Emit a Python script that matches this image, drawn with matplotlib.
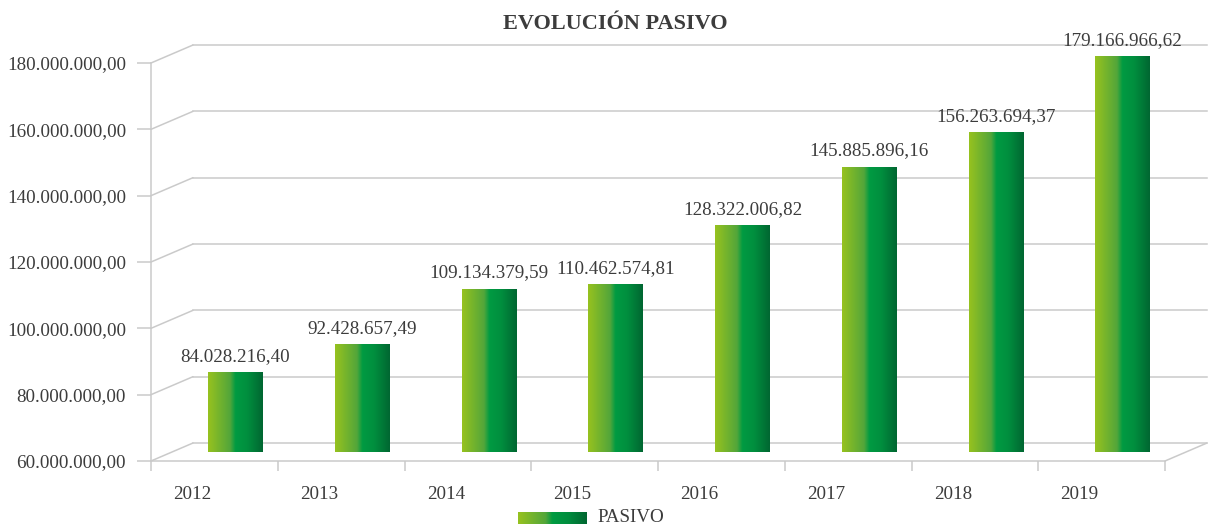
import matplotlib
matplotlib.use('Agg')
import matplotlib.pyplot as plt
import numpy as np
from matplotlib.colors import LinearSegmentedColormap
from matplotlib.patches import ConnectionPatch
from matplotlib.transforms import ScaledTranslation
from matplotlib.ticker import FuncFormatter

# data
years = ['2012', '2013', '2014', '2015', '2016', '2017', '2018', '2019']
pasivo = [84028216.40, 92428657.49, 109134379.59, 110462574.81,
          128322006.82, 145885896.16, 156263694.37, 179166966.62]
y_ticks = [60e6, 80e6, 100e6, 120e6, 140e6, 160e6, 180e6]

TXT = '#3C3C3C'
GRID = '#CACACA'
FONT = 'Liberation Serif'
FS = 13.7
plt.rcParams['font.family'] = [FONT, 'DejaVu Serif']


def fmt_es(v, pos=None):
    # 1,234.56 -> 1.234,56
    s = f"{v:,.2f}"
    return s.replace(',', 'X').replace('.', ',').replace('X', '.')


# gradient used for the columns (Excel style)
green = LinearSegmentedColormap.from_list('green', [
    (0.0, '#97C21F'), (0.40, '#53A63A'), (0.50, '#009B42'),
    (0.72, '#008E3E'), (1.0, '#006631')])
grad = np.linspace(0, 1, 256)[None, :]

fig = plt.figure(figsize=(12.1, 5.27), dpi=100)
W, H = 1210, 527
ax = fig.add_axes([151 / W, 66 / H, 1014 / W, 398 / H])
ax.set_xlim(-0.5, len(years) - 0.5)
ax.set_ylim(y_ticks[0], y_ticks[-1])

# pseudo 3d: back wall shifted up-right, columns half way in depth
back = ax.transData + ScaledTranslation(0.42, 0.18, fig.dpi_scale_trans)
mid = ax.transData + ScaledTranslation(0.21, 0.09, fig.dpi_scale_trans)

x0, x1 = -0.5, len(years) - 0.5
for v in y_ticks:
    ax.plot([x0, x1], [v, v], transform=back, color=GRID, lw=1.1,
            clip_on=False, zorder=0)
    ax.add_artist(ConnectionPatch(xyA=(x0, v), coordsA=ax.transData,
                                  xyB=(x0, v), coordsB=back,
                                  color=GRID, lw=1.1, zorder=0))
# right edge of the floor
ax.add_artist(ConnectionPatch(xyA=(x1, y_ticks[0]), coordsA=ax.transData,
                              xyB=(x1, y_ticks[0]), coordsB=back,
                              color=GRID, lw=1.1, zorder=0))

for s in ['top', 'right']:
    ax.spines[s].set_visible(False)
for s in ['left', 'bottom']:
    ax.spines[s].set_color(GRID)
    ax.spines[s].set_linewidth(1.1)

# x axis: ticks between categories, labels in the middle
ax.set_xticks(np.arange(-0.5, len(years), 1))
ax.tick_params(axis='x', which='major', length=7.5, width=1.1, color=GRID,
               labelbottom=False)
ax.set_xticks(range(len(years)), minor=True)
ax.set_xticklabels(years, minor=True)
ax.tick_params(axis='x', which='minor', length=0, pad=18, labelsize=FS,
               labelcolor=TXT)
# excel draws the category labels a bit to the left (perspective)
shift = ScaledTranslation(-0.22, 0, fig.dpi_scale_trans)
for lab in ax.get_xticklabels(minor=True):
    lab.set_transform(lab.get_transform() + shift)

ax.set_yticks(y_ticks)
ax.yaxis.set_major_formatter(FuncFormatter(fmt_es))
ax.tick_params(axis='y', length=10, width=1.1, color=GRID, pad=8,
               labelsize=FS, labelcolor=TXT)

heights = [v - y_ticks[0] for v in pasivo]
bars = ax.bar(range(len(years)), heights, bottom=y_ticks[0], width=0.43,
              transform=mid, color='none', clip_on=False, zorder=2)
for b in bars:
    ax.imshow(grad, cmap=green, aspect='auto', interpolation='bilinear',
              extent=(b.get_x(), b.get_x() + b.get_width(),
                      b.get_y(), b.get_y() + b.get_height()),
              transform=mid, clip_on=False, zorder=2)

for i, v in enumerate(pasivo):
    ax.annotate(fmt_es(v), xy=(i, v), xycoords=mid, xytext=(0, 5.5),
                textcoords='offset points', ha='center', va='bottom',
                fontsize=FS, color=TXT)

ax.set_xlim(x0, x1)
ax.set_ylim(y_ticks[0], y_ticks[-1])

# title
fig.text(615 / W, 1 - 24 / H, 'EVOLUCIÓN PASIVO', ha='center', va='center',
         fontsize=16, fontweight='bold', color=TXT)

# legend
lax = fig.add_axes([518 / W, 3 / H, 69 / W, 12 / H])
lax.imshow(grad, cmap=green, aspect='auto', interpolation='bilinear')
lax.axis('off')
fig.text(597 / W, 1 - 518 / H, 'PASIVO', ha='left', va='center',
         fontsize=FS, color=TXT)

fig.savefig('out.png', dpi=100)
